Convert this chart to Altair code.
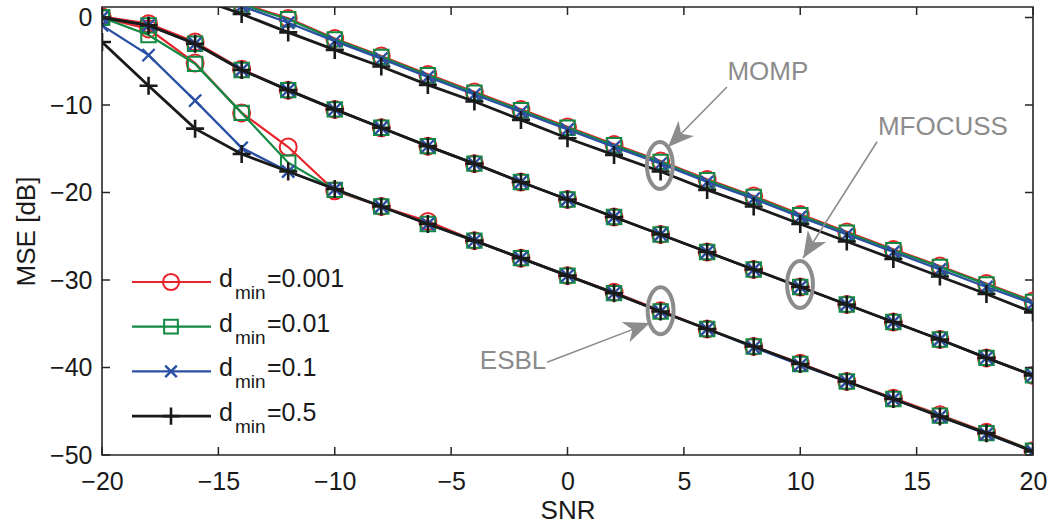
import math
import altair as alt
import pandas as pd

# ---------------- data ----------------
snr = [-20, -18, -16, -14, -12, -10, -8, -6, -4, -2, 0, 2, 4, 6, 8, 10, 12, 14, 16, 18, 20]

series_labels = ["0.001", "0.01", "0.1", "0.5"]
algorithms = ["MOMP", "MFOCUSS", "ESBL"]

momp_0001 = [7.6, 5.6, 3.6, 1.6, -0.1, -2.4, -4.4, -6.5, -8.5, -10.5, -12.5, -14.5, -16.4, -18.5, -20.4, -22.5, -24.5, -26.5, -28.4, -30.4, -32.4]
momp_001 = [7.5, 5.5, 3.5, 1.5, -0.2, -2.5, -4.5, -6.6, -8.6, -10.6, -12.6, -14.6, -16.5, -18.6, -20.5, -22.6, -24.6, -26.6, -28.5, -30.5, -32.5]
momp_01 = [7.3, 5.3, 3.3, 1.3, -0.6, -2.7, -4.7, -6.8, -8.8, -10.8, -12.8, -14.8, -16.7, -18.8, -20.7, -22.8, -24.8, -26.8, -28.8, -30.8, -32.7]
momp_05 = [6.3, 4.3, 2.3, 0.4, -1.7, -3.7, -5.6, -7.7, -9.6, -11.7, -13.8, -15.7, -17.6, -19.7, -21.6, -23.6, -25.6, -27.6, -29.6, -31.6, -33.7]

mfocuss_0001 = [0.1, -0.7, -2.8, -5.9, -8.3, -10.5, -12.6, -14.7, -16.7, -18.8, -20.8, -22.8, -24.8, -26.8, -28.8, -30.8, -32.8, -34.8, -36.8, -38.9, -40.9]
mfocuss_001 = [0.0, -0.9, -3.0, -6.0, -8.3, -10.5, -12.6, -14.7, -16.7, -18.8, -20.8, -22.8, -24.8, -26.8, -28.8, -30.8, -32.8, -34.8, -36.8, -38.9, -40.9]
mfocuss_01 = [0.0, -0.9, -3.0, -6.0, -8.3, -10.5, -12.6, -14.7, -16.7, -18.8, -20.8, -22.8, -24.8, -26.8, -28.8, -30.8, -32.8, -34.8, -36.8, -38.9, -40.9]
mfocuss_05 = [0.0, -0.9, -3.0, -6.0, -8.3, -10.5, -12.6, -14.7, -16.7, -18.8, -20.8, -22.8, -24.8, -26.8, -28.8, -30.8, -32.8, -34.8, -36.8, -38.9, -40.9]

esbl_0001 = [0.0, -1.3, -5.2, -10.9, -14.8, -19.8, -21.6, -23.3, -25.5, -27.5, -29.5, -31.4, -33.5, -35.6, -37.6, -39.5, -41.6, -43.5, -45.4, -47.4, -49.5]
esbl_001 = [0.0, -2.0, -5.3, -10.9, -16.6, -19.7, -21.6, -23.6, -25.5, -27.5, -29.5, -31.5, -33.6, -35.6, -37.6, -39.6, -41.6, -43.6, -45.5, -47.5, -49.5]
esbl_01 = [-0.9, -4.3, -9.5, -14.9, -17.6, -19.6, -21.6, -23.6, -25.5, -27.5, -29.5, -31.5, -33.6, -35.6, -37.7, -39.7, -41.6, -43.6, -45.6, -47.6, -49.6]
esbl_05 = [-2.8, -7.8, -12.7, -15.6, -17.6, -19.6, -21.6, -23.6, -25.5, -27.5, -29.5, -31.5, -33.6, -35.6, -37.6, -39.6, -41.6, -43.6, -45.6, -47.5, -49.6]

x_ticks = [-20, -15, -10, -5, 0, 5, 10, 15, 20]
y_ticks = [-50, -40, -30, -20, -10, 0]

# annotations (data coordinates)
ann_text = ["MOMP", "MFOCUSS", "ESBL"]
ann_text_x = [8.61, 16.13, -2.34]
ann_text_y = [-6.2, -12.5, -39.3]
ann_ell_x = [3.97, 9.99, 4.0]
ann_ell_y = [-16.9, -30.5, -33.5]
ann_arrow_x0 = [6.85, 13.3, -0.88]
ann_arrow_y0 = [-7.94, -14.2, -39.4]
ann_arrow_x1 = [4.32, 10.12, 3.54]
ann_arrow_y1 = [-14.8, -27.5, -34.9]

# ---------------- styling ----------------
W, H = 931, 448
X_DOM = [-20, 20]
Y_DOM = [-50, 1.2]
PX_X = W / (X_DOM[1] - X_DOM[0])
PX_Y = H / (Y_DOM[1] - Y_DOM[0])

colors = ["#E8232A", "#138A43", "#2A4FA3", "#1A1A1A"]
line_widths = [2.2, 2.2, 2.3, 2.8]
shapes = ["circle", "square", "M-1,-1L1,1M-1,1L1,-1", "M-1,0L1,0M0,-1L0,1"]
sizes = [289, 210, 150, 324]
marker_widths = [2, 2, 2.4, 2.6]
GRAY = "#8C8C8C"
FONT = "Liberation Sans"
FRAME = "#262626"

xscale = alt.Scale(domain=X_DOM, nice=False, zero=False)
yscale = alt.Scale(domain=Y_DOM, nice=False, zero=False)
AX = alt.Axis(
    values=x_ticks, title="SNR", labelFlush=False, labelPadding=14,
    titleX=W / 2, titleY=55, titleBaseline="middle", titleFontSize=26,
)
AY = alt.Axis(
    values=y_ticks, title="MSE [dB]", labelPadding=10,
    titleX=-76, titleY=H / 2, titleBaseline="middle", titleFontSize=26,
)


def X(f):
    return alt.X(f"{f}:Q", scale=xscale, axis=AX)


def Y(f):
    return alt.Y(f"{f}:Q", scale=yscale, axis=AY)


data_by_series = [
    [momp_0001, mfocuss_0001, esbl_0001],
    [momp_001, mfocuss_001, esbl_001],
    [momp_01, mfocuss_01, esbl_01],
    [momp_05, mfocuss_05, esbl_05],
]

layers = []

for k in range(4):
    rows = []
    for a, alg in enumerate(algorithms):
        for xv, yv in zip(snr, data_by_series[k][a]):
            rows.append({"snr": xv, "mse": yv, "alg": alg})
    df = pd.DataFrame(rows)
    base = alt.Chart(df)
    layers.append(
        base.mark_line(color=colors[k], strokeWidth=line_widths[k], clip=True).encode(
            x=X("snr"), y=Y("mse"), detail="alg:N", order="snr:Q"
        )
    )
    layers.append(
        base.mark_point(
            shape=shapes[k], filled=False, color=colors[k], size=sizes[k],
            strokeWidth=marker_widths[k], opacity=1, clip=True,
        ).encode(x=X("snr"), y=Y("mse"))
    )

# inward ticks (Matlab box style)
xt = pd.DataFrame({"v": x_ticks})
yt = pd.DataFrame({"v": y_ticks})
tick_len = 8
for y0, y1 in [(H, H - tick_len), (0, tick_len)]:
    layers.append(
        alt.Chart(xt).mark_rule(color=FRAME, strokeWidth=1.5).encode(
            x=X("v"), y=alt.value(y0), y2=alt.value(y1),
        )
    )
for x0, x1 in [(0, tick_len), (W, W - tick_len)]:
    layers.append(
        alt.Chart(yt).mark_rule(color=FRAME, strokeWidth=1.5).encode(
            y=Y("v"), x=alt.value(x0), x2=alt.value(x1),
        )
    )

# annotations
ann = pd.DataFrame({
    "label": ann_text, "tx": ann_text_x, "ty": ann_text_y,
    "ex": ann_ell_x, "ey": ann_ell_y,
    "x0": ann_arrow_x0, "y0": ann_arrow_y0, "x1": ann_arrow_x1, "y1": ann_arrow_y1,
})
ann["angle"] = [
    (math.degrees(math.atan2(-(r.y1 - r.y0) * PX_Y, (r.x1 - r.x0) * PX_X)) + 360) % 360
    for r in ann.itertuples()
]
ann_base = alt.Chart(ann)
layers.append(
    ann_base.mark_point(
        shape="M0,-1A0.55,1,0,1,1,0,1A0.55,1,0,1,1,0,-1Z", filled=False,
        color=GRAY, size=2209, strokeWidth=4, opacity=1,
    ).encode(x=X("ex"), y=Y("ey"))
)
layers.append(
    ann_base.mark_rule(color=GRAY, strokeWidth=1.6).encode(
        x=X("x0"), y=Y("y0"), x2="x1:Q", y2="y1:Q",
    )
)
layers.append(
    ann_base.mark_point(
        shape="M0,0L-1,-0.42L-0.72,0L-1,0.42Z", filled=True, color=GRAY,
        size=2704, opacity=1, strokeWidth=0,
    ).encode(
        x=X("x1"), y=Y("y1"),
        angle=alt.Angle("angle:Q", scale=None),
    )
)
layers.append(
    ann_base.mark_text(font=FONT, fontSize=26, color=GRAY, align="center", baseline="middle").encode(
        x=X("tx"), y=Y("ty"), text="label:N",
    )
)

# custom legend (pixel layout)
leg_x0, leg_x1, leg_mx = 30, 109, 69
leg_row0, leg_step = 275, 44.7
one = pd.DataFrame({"a": [0]})
for k in range(4):
    ry = leg_row0 + leg_step * k
    layers.append(
        alt.Chart(one).mark_rule(color=colors[k], strokeWidth=line_widths[k]).encode(
            x=alt.value(leg_x0), x2=alt.value(leg_x1), y=alt.value(ry)
        )
    )
    layers.append(
        alt.Chart(one).mark_point(
            shape=shapes[k], filled=False, color=colors[k], size=sizes[k] * 0.9,
            strokeWidth=marker_widths[k], opacity=1,
        ).encode(x=alt.value(leg_mx), y=alt.value(ry))
    )
    layers.append(
        alt.Chart(one).mark_text(text="d", font=FONT, fontSize=25, color="#1A1A1A",
                                 align="left", baseline="alphabetic").encode(
            x=alt.value(117), y=alt.value(ry + 5)
        )
    )
    layers.append(
        alt.Chart(one).mark_text(text="min", font=FONT, fontSize=19, color="#1A1A1A",
                                 align="left", baseline="alphabetic").encode(
            x=alt.value(133), y=alt.value(ry + 17)
        )
    )
    layers.append(
        alt.Chart(one).mark_text(text="=" + series_labels[k], font=FONT, fontSize=25,
                                 color="#1A1A1A", align="left", baseline="alphabetic").encode(
            x=alt.value(165), y=alt.value(ry + 5)
        )
    )

chart = (
    alt.layer(*layers)
    .properties(
        width=W, height=H,
        padding={"left": 102, "top": 7, "right": 16, "bottom": 68},
        autosize=alt.AutoSizeParams(type="none"),
        background="white",
    )
    .configure_view(stroke=FRAME, strokeWidth=1.6)
    .configure_axis(
        domain=False, ticks=False, grid=False,
        labelFont=FONT, labelFontSize=25, labelColor="#1A1A1A",
        titleFont=FONT, titleColor="#1A1A1A", titleFontWeight="normal",
    )
)

chart.save("out.html", embed_options={"renderer": "svg", "actions": False})
